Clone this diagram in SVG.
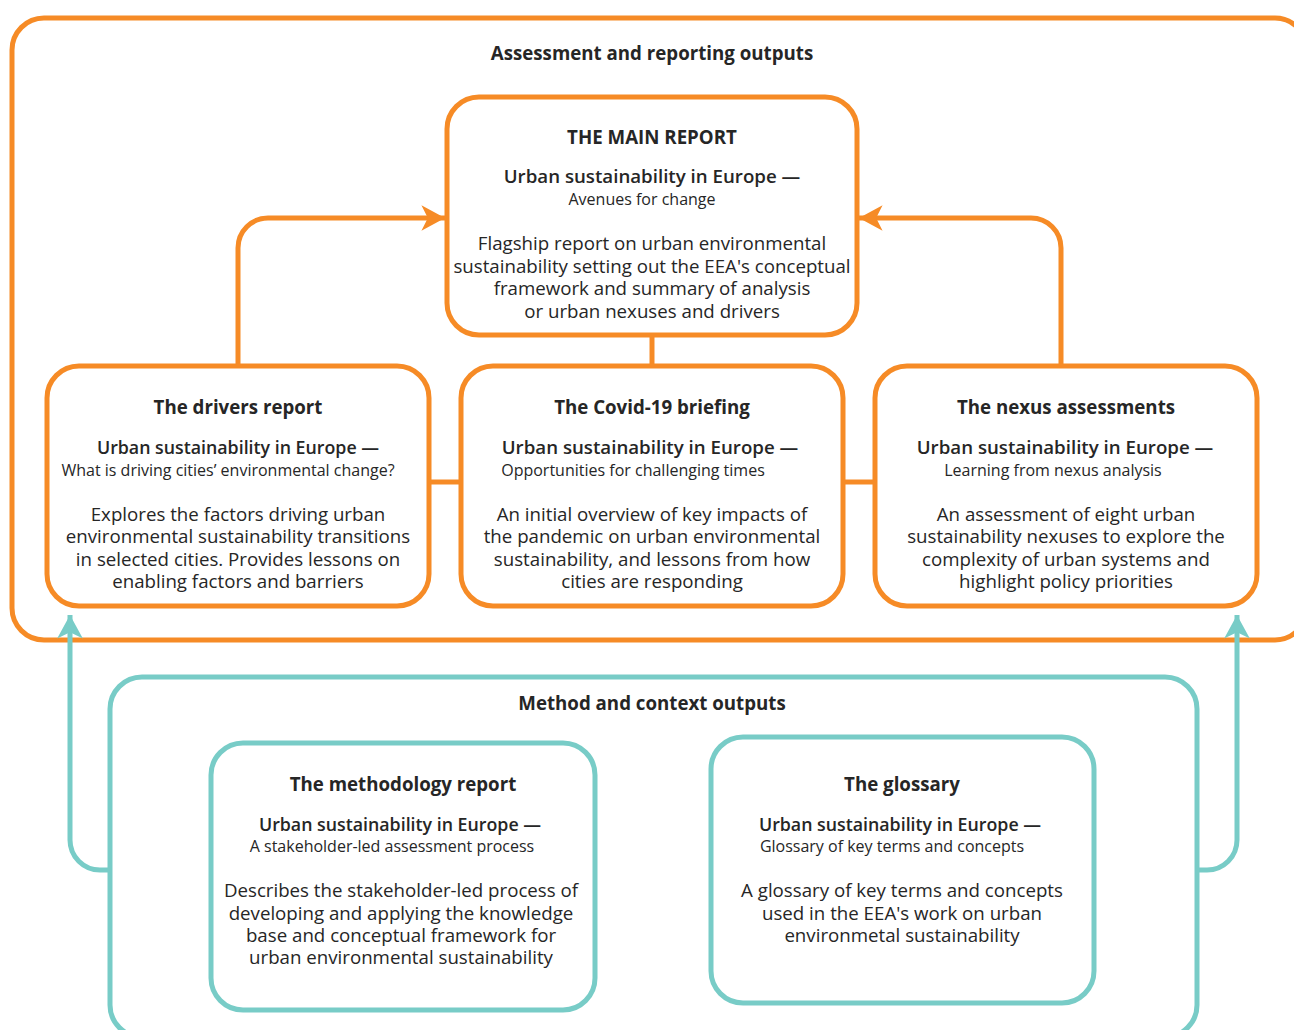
<svg xmlns="http://www.w3.org/2000/svg" width="1294" height="1030" viewBox="0 0 1294 1030">
  <style>
    .o { fill: #ffffff; stroke: #F68B26; stroke-width: 5; }
    .t { fill: #ffffff; stroke: #78CCC7; stroke-width: 5; }
    .oc { fill: none; stroke: #F68B26; stroke-width: 5; }
    .tc { fill: none; stroke: #78CCC7; stroke-width: 5; }
    text { font-family: "Open Sans", "Liberation Sans", sans-serif; fill: #262626; text-anchor: middle; }
    .h { font-size: 18.7px; font-weight: 700; }
    .u { font-size: 18.7px; font-weight: 600; }
    .u2 { font-size: 17.8px; font-weight: 600; }
    .s { font-size: 16px; font-weight: 400; }
    .b { font-size: 18.7px; font-weight: 400; }
  </style>
  <defs>
    <marker id="ao" markerUnits="userSpaceOnUse" markerWidth="30" markerHeight="30" viewBox="-24 -14 26 28" refX="0" refY="0" orient="auto">
      <path d="M0,0 L-22,-12 L-16,0 L-22,12 Z" fill="#F68B26"/>
    </marker>
    <marker id="at" markerUnits="userSpaceOnUse" markerWidth="30" markerHeight="30" viewBox="-24 -14 26 28" refX="0" refY="0" orient="auto">
      <path d="M0,0 L-22,-12 L-16,0 L-22,12 Z" fill="#78CCC7"/>
    </marker>
  </defs>

  <g id="assessment-group">
    <rect class="o" x="12" y="18" width="1295" height="622" rx="32"/>
    <text class="h" x="652" y="60">Assessment and reporting outputs</text>
  </g>

  <g id="method-group">
    <rect class="t" x="110" y="677" width="1087" height="360" rx="32"/>
    <text class="h" x="652" y="710">Method and context outputs</text>
  </g>

  <g id="connectors">
    <path class="oc" d="M652,335 L652,366"/>
    <path class="oc" d="M429,482 L461,482"/>
    <path class="oc" d="M843,482 L875,482"/>
    <path class="oc" d="M238,366 L238,248 A30,30 0 0 1 268,218 L445,218" marker-end="url(#ao)"/>
    <path class="oc" d="M1061,366 L1061,248 A30,30 0 0 0 1031,218 L859,218" marker-end="url(#ao)"/>
    <path class="tc" d="M110,870 L100,870 A30,30 0 0 1 70,840 L70,615" marker-end="url(#at)"/>
    <path class="tc" d="M1197,870 L1207,870 A30,30 0 0 0 1237,840 L1237,615" marker-end="url(#at)"/>
  </g>

  <g id="main-report">
    <rect class="o" x="447" y="97" width="410" height="238" rx="32"/>
    <text class="h" x="652" y="144">THE MAIN REPORT</text>
    <text class="u" x="652" y="183">Urban sustainability in Europe —</text>
    <text class="s" x="642" y="205">Avenues for change</text>
    <text class="b" x="652" y="250">Flagship report on urban environmental</text>
    <text class="b" x="652" y="273">sustainability setting out the EEA's conceptual</text>
    <text class="b" x="652" y="295">framework and summary of analysis</text>
    <text class="b" x="652" y="318">or urban nexuses and drivers</text>
  </g>

  <g id="drivers-report">
    <rect class="o" x="47" y="366" width="382" height="240" rx="32"/>
    <text class="h" x="238" y="414">The drivers report</text>
    <text class="u2" x="238" y="454">Urban sustainability in Europe —</text>
    <text class="s" x="228" y="476">What is driving cities’ environmental change?</text>
    <text class="b" x="238" y="521">Explores the factors driving urban</text>
    <text class="b" x="238" y="543">environmental sustainability transitions</text>
    <text class="b" x="238" y="566">in selected cities. Provides lessons on</text>
    <text class="b" x="238" y="588">enabling factors and barriers</text>
  </g>

  <g id="covid-briefing">
    <rect class="o" x="461" y="366" width="382" height="240" rx="32"/>
    <text class="h" x="652" y="414">The Covid-19 briefing</text>
    <text class="u" x="650" y="454">Urban sustainability in Europe —</text>
    <text class="s" x="633" y="476">Opportunities for challenging times</text>
    <text class="b" x="652" y="521">An initial overview of key impacts of</text>
    <text class="b" x="652" y="543">the pandemic on urban environmental</text>
    <text class="b" x="652" y="566">sustainability, and lessons from how</text>
    <text class="b" x="652" y="588">cities are responding</text>
  </g>

  <g id="nexus-assessments">
    <rect class="o" x="875" y="366" width="382" height="240" rx="32"/>
    <text class="h" x="1066" y="414">The nexus assessments</text>
    <text class="u" x="1065" y="454">Urban sustainability in Europe —</text>
    <text class="s" x="1053" y="476">Learning from nexus analysis</text>
    <text class="b" x="1066" y="521">An assessment of eight urban</text>
    <text class="b" x="1066" y="543">sustainability nexuses to explore the</text>
    <text class="b" x="1066" y="566">complexity of urban systems and</text>
    <text class="b" x="1066" y="588">highlight policy priorities</text>
  </g>

  <g id="methodology-report">
    <rect class="t" x="211" y="743" width="384" height="267" rx="32"/>
    <text class="h" x="403" y="791">The methodology report</text>
    <text class="u2" x="400" y="831">Urban sustainability in Europe —</text>
    <text class="s" x="392" y="852">A stakeholder-led assessment process</text>
    <text class="b" x="401" y="897">Describes the stakeholder-led process of</text>
    <text class="b" x="401" y="920">developing and applying the knowledge</text>
    <text class="b" x="401" y="942">base and conceptual framework for</text>
    <text class="b" x="401" y="964">urban environmental sustainability</text>
  </g>

  <g id="glossary">
    <rect class="t" x="711" y="737" width="383" height="266" rx="32"/>
    <text class="h" x="902" y="791">The glossary</text>
    <text class="u2" x="900" y="831">Urban sustainability in Europe —</text>
    <text class="s" x="892" y="852">Glossary of key terms and concepts</text>
    <text class="b" x="902" y="897">A glossary of key terms and concepts</text>
    <text class="b" x="902" y="920">used in the EEA's work on urban</text>
    <text class="b" x="902" y="942">environmetal sustainability</text>
  </g>
</svg>
